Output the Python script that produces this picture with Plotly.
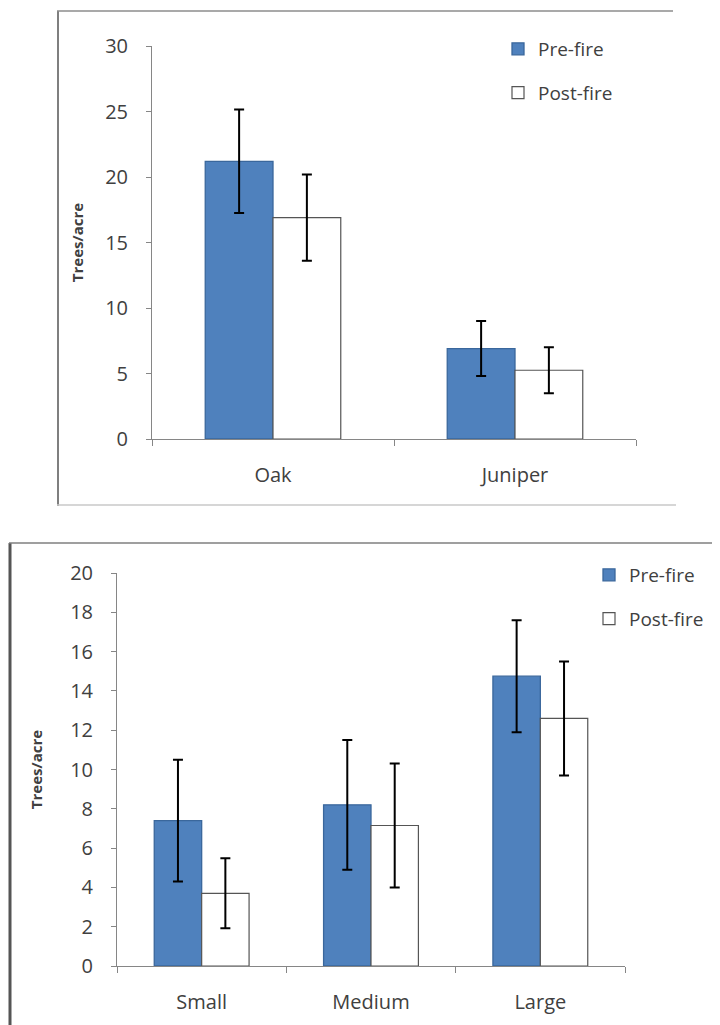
import plotly.graph_objects as go

# ---- Data ----
species = ["Oak", "Juniper"]
species_pre = [21.2, 6.9]
species_pre_err = [3.95, 2.1]
species_post = [16.9, 5.25]
species_post_err = [3.3, 1.75]

sizes = ["Small", "Medium", "Large"]
size_pre = [7.4, 8.2, 14.75]
size_pre_err = [3.1, 3.3, 2.85]
size_post = [3.7, 7.15, 12.6]
size_post_err = [1.78, 3.15, 2.9]

series_names = ["Pre-fire", "Post-fire"]

# the page has an 8px body margin; the figure fills the rest of the window
OFF = 8
W, H = 720 - OFF, 1025 - OFF
FONT = "Open Sans"
BLUE = "#4F81BD"
BLUE_LINE = "#3A679C"
AX = "#868686"
TXT = "#404040"


def px(x):
    return (x - OFF) / W


def py(y):
    return 1 - (y - OFF) / H


fig = go.Figure()


def add_pair(cats, pre, pre_err, post, post_err, xa, ya, legend, tag):
    fig.add_trace(go.Bar(
        x=cats, y=pre, name=series_names[0], xaxis=xa, yaxis=ya, legend=legend,
        legendgroup="pre" + tag,
        marker=dict(color=BLUE, line=dict(color=BLUE_LINE, width=1.3)),
        error_y=dict(type="data", array=pre_err, visible=True, color="black",
                     thickness=2, width=5),
    ))
    fig.add_trace(go.Bar(
        x=cats, y=post, name=series_names[1], xaxis=xa, yaxis=ya, legend=legend,
        legendgroup="post" + tag,
        marker=dict(color="white", line=dict(color="#555555", width=1.2)),
        error_y=dict(type="data", array=post_err, visible=True, color="black",
                     thickness=2, width=5),
    ))


add_pair(species, species_pre, species_pre_err, species_post, species_post_err,
         "x", "y", "legend", "1")
add_pair(sizes, size_pre, size_pre_err, size_post, size_post_err,
         "x2", "y2", "legend2", "2")

tickfont = dict(family=FONT, size=20, color=TXT)
titlefont = dict(family=FONT, size=15, color=TXT, weight="bold")

xcommon = dict(showline=True, linecolor=AX, linewidth=1, ticks="outside",
               tickson="boundaries", ticklen=6, tickcolor=AX, tickfont=tickfont,
               showgrid=False, zeroline=False, ticklabelstandoff=18,
               fixedrange=True, automargin=False)
ycommon = dict(showline=True, linecolor=AX, linewidth=1, ticks="outside",
               ticklen=5, tickcolor=AX, tickfont=tickfont, showgrid=False,
               zeroline=False, ticklabelstandoff=14, fixedrange=True,
               automargin=False)

legend_common = dict(font=dict(family=FONT, size=19, color=TXT),
                     bgcolor="rgba(0,0,0,0)", borderwidth=0,
                     traceorder="grouped", tracegroupgap=16,
                     xanchor="left", yanchor="top", itemclick=False,
                     itemdoubleclick=False)

fig.update_layout(
    width=W, height=H,
    margin=dict(l=0, r=0, t=0, b=0, autoexpand=False),
    paper_bgcolor="white", plot_bgcolor="white",
    barmode="group",
    bargap=0.44,
    bargroupgap=0,
    font=dict(family=FONT, color=TXT),
    xaxis=dict(domain=[px(152), px(636)], anchor="y", **xcommon),
    yaxis=dict(domain=[py(439), py(46)], anchor="x", range=[0, 30], dtick=5,
               title=dict(text="Trees/acre", font=titlefont, standoff=17),
               **ycommon),
    xaxis2=dict(domain=[px(117), px(625)], anchor="y2", **xcommon),
    yaxis2=dict(domain=[py(966), py(573)], anchor="x2", range=[0, 20], dtick=2,
                title=dict(text="Trees/acre", font=titlefont, standoff=23),
                **ycommon),
    legend=dict(x=px(498), y=py(30), **legend_common),
    legend2=dict(x=px(589), y=py(556), **legend_common),
    shapes=[
        # top chart frame
        dict(type="line", xref="paper", yref="paper", x0=px(58), x1=px(58),
             y0=py(11), y1=py(506), line=dict(color="#7f7f7f", width=2)),
        dict(type="line", xref="paper", yref="paper", x0=px(57), x1=px(673),
             y0=py(11), y1=py(11), line=dict(color="#8c8c8c", width=1.5)),
        dict(type="line", xref="paper", yref="paper", x0=px(57), x1=px(676),
             y0=py(505), y1=py(505), line=dict(color="#c8c8c8", width=1.5)),
        # bottom chart frame
        dict(type="line", xref="paper", yref="paper", x0=px(10), x1=px(10),
             y0=py(543), y1=0, line=dict(color="#555555", width=3)),
        dict(type="line", xref="paper", yref="paper", x0=px(9), x1=1,
             y0=py(543), y1=py(543), line=dict(color="#7f7f7f", width=1.5)),
    ],
)

fig.write_html("out.html")
